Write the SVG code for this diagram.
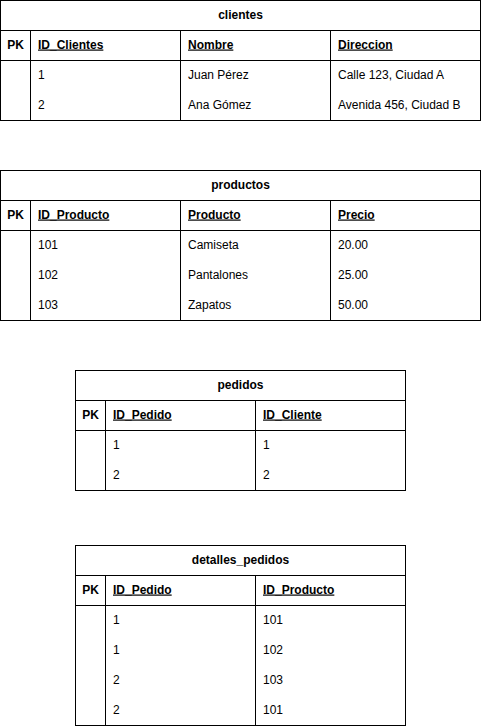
<svg xmlns="http://www.w3.org/2000/svg" width="482" height="727" viewBox="0 0 482 727">
<style>
  .box{fill:#ffffff;stroke:#000000;stroke-width:1}
  .ln{stroke:#000000;stroke-width:1;fill:none}
  text{font-family:"Liberation Sans",Arial,Helvetica,sans-serif;font-size:12px;fill:#000000}
  .title{font-weight:bold;text-anchor:middle}
  .pk{font-weight:bold;text-anchor:middle}
  .hd{font-weight:bold;text-decoration:underline}
</style>
<rect width="482" height="727" fill="#ffffff"/>

<g id="clientes">
  <rect class="box" x="0.5" y="0.5" width="480" height="120"/>
  <line class="ln" x1="0.5" y1="30.5" x2="480.5" y2="30.5"/>
  <line class="ln" x1="0.5" y1="60.5" x2="480.5" y2="60.5"/>
  <line class="ln" x1="30.5" y1="30.5" x2="30.5" y2="120.5"/>
  <line class="ln" x1="180.5" y1="30.5" x2="180.5" y2="120.5"/>
  <line class="ln" x1="330.5" y1="30.5" x2="330.5" y2="120.5"/>
  <text class="title" x="240.5" y="18.5">clientes</text>
  <text class="pk" x="15.5" y="48.5">PK</text>
  <text class="hd" x="38" y="48.5">ID_Clientes</text>
  <text class="hd" x="188" y="48.5">Nombre</text>
  <text class="hd" x="338" y="48.5">Direccion</text>
  <text x="38" y="78.5">1</text>
  <text x="188" y="78.5">Juan Pérez</text>
  <text x="338" y="78.5">Calle 123, Ciudad A</text>
  <text x="38" y="108.5">2</text>
  <text x="188" y="108.5">Ana Gómez</text>
  <text x="338" y="108.5">Avenida 456, Ciudad B</text>
</g>

<g id="productos">
  <rect class="box" x="0.5" y="170.5" width="480" height="150"/>
  <line class="ln" x1="0.5" y1="200.5" x2="480.5" y2="200.5"/>
  <line class="ln" x1="0.5" y1="230.5" x2="480.5" y2="230.5"/>
  <line class="ln" x1="30.5" y1="200.5" x2="30.5" y2="320.5"/>
  <line class="ln" x1="180.5" y1="200.5" x2="180.5" y2="320.5"/>
  <line class="ln" x1="330.5" y1="200.5" x2="330.5" y2="320.5"/>
  <text class="title" x="240.5" y="188.5">productos</text>
  <text class="pk" x="15.5" y="218.5">PK</text>
  <text class="hd" x="38" y="218.5">ID_Producto</text>
  <text class="hd" x="188" y="218.5">Producto</text>
  <text class="hd" x="338" y="218.5">Precio</text>
  <text x="38" y="248.5">101</text>
  <text x="188" y="248.5">Camiseta</text>
  <text x="338" y="248.5">20.00</text>
  <text x="38" y="278.5">102</text>
  <text x="188" y="278.5">Pantalones</text>
  <text x="338" y="278.5">25.00</text>
  <text x="38" y="308.5">103</text>
  <text x="188" y="308.5">Zapatos</text>
  <text x="338" y="308.5">50.00</text>
</g>

<g id="pedidos">
  <rect class="box" x="75.5" y="370.5" width="330" height="120"/>
  <line class="ln" x1="75.5" y1="400.5" x2="405.5" y2="400.5"/>
  <line class="ln" x1="75.5" y1="430.5" x2="405.5" y2="430.5"/>
  <line class="ln" x1="105.5" y1="400.5" x2="105.5" y2="490.5"/>
  <line class="ln" x1="255.5" y1="400.5" x2="255.5" y2="490.5"/>
  <text class="title" x="240.5" y="388.5">pedidos</text>
  <text class="pk" x="90.5" y="418.5">PK</text>
  <text class="hd" x="113" y="418.5">ID_Pedido</text>
  <text class="hd" x="263" y="418.5">ID_Cliente</text>
  <text x="113" y="448.5">1</text>
  <text x="263" y="448.5">1</text>
  <text x="113" y="478.5">2</text>
  <text x="263" y="478.5">2</text>
</g>

<g id="detalles_pedidos">
  <rect class="box" x="75.5" y="545.5" width="330" height="180"/>
  <line class="ln" x1="75.5" y1="575.5" x2="405.5" y2="575.5"/>
  <line class="ln" x1="75.5" y1="605.5" x2="405.5" y2="605.5"/>
  <line class="ln" x1="105.5" y1="575.5" x2="105.5" y2="725.5"/>
  <line class="ln" x1="255.5" y1="575.5" x2="255.5" y2="725.5"/>
  <text class="title" x="240.5" y="563.5">detalles_pedidos</text>
  <text class="pk" x="90.5" y="593.5">PK</text>
  <text class="hd" x="113" y="593.5">ID_Pedido</text>
  <text class="hd" x="263" y="593.5">ID_Producto</text>
  <text x="113" y="623.5">1</text>
  <text x="263" y="623.5">101</text>
  <text x="113" y="653.5">1</text>
  <text x="263" y="653.5">102</text>
  <text x="113" y="683.5">2</text>
  <text x="263" y="683.5">103</text>
  <text x="113" y="713.5">2</text>
  <text x="263" y="713.5">101</text>
</g>

<g id="connectors"></g>
</svg>
